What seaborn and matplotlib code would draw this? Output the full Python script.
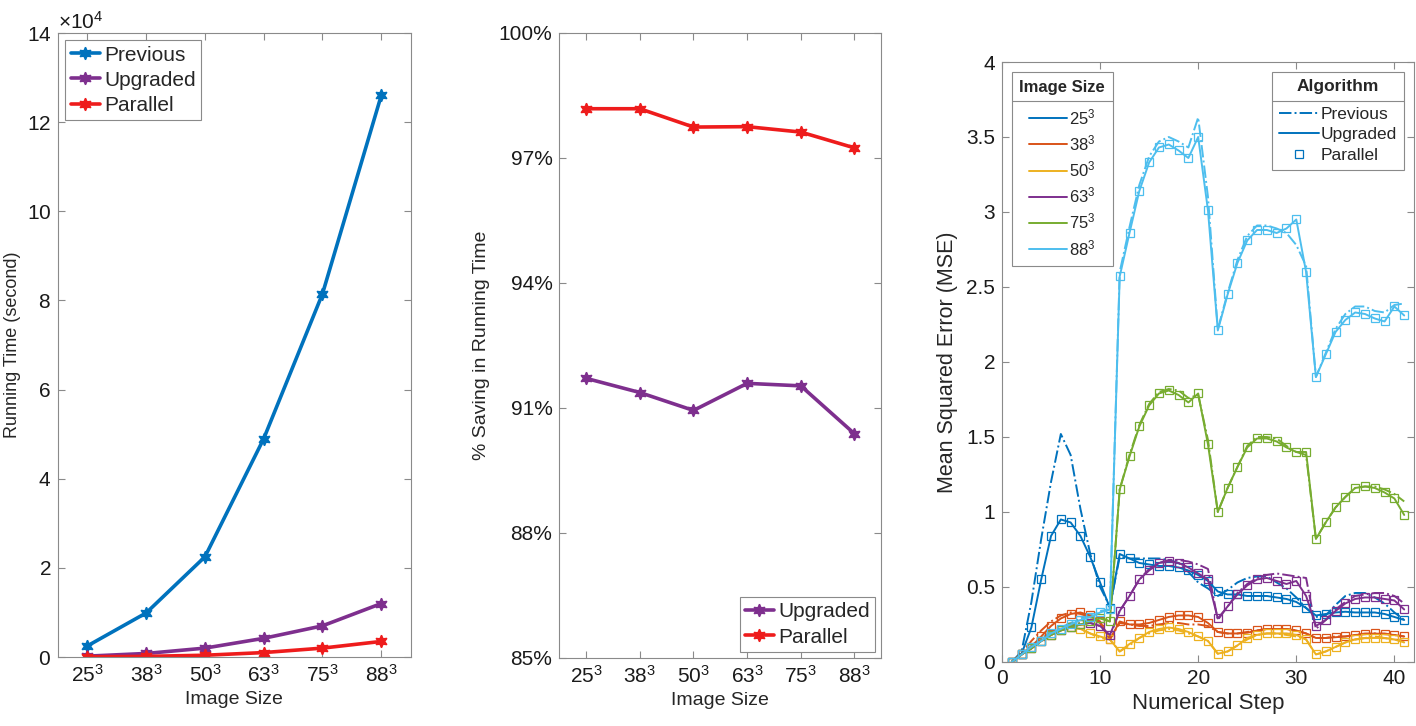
import numpy as np
import pandas as pd
import matplotlib
matplotlib.use("Agg")
import matplotlib.pyplot as plt
import seaborn as sns
from matplotlib.lines import Line2D
from matplotlib.ticker import ScalarFormatter, FuncFormatter

# ---------- data ----------
sizes = ["25", "38", "50", "63", "75", "88"]
size_labels = [s + "$^3$" for s in sizes]

# running time in seconds
time_previous = [2500, 9900, 22500, 49000, 81500, 126000]
time_upgraded = [200, 800, 2000, 4200, 7000, 12000]
time_parallel = [50, 150, 400, 1000, 2000, 3500]

# % saving in running time
save_upgraded = [91.71, 91.37, 90.94, 91.59, 91.53, 90.38]
save_parallel = [98.18, 98.18, 97.74, 97.75, 97.62, 97.24]

steps = list(range(1, 42))

# MSE per numerical step, Upgraded (solid) -- Parallel squares sit on the same values
mse_upg_25 = [0, 0.055, 0.23, 0.55, 0.84, 0.95, 0.93, 0.84, 0.70, 0.53, 0.36,
              0.72, 0.69, 0.66, 0.65, 0.64, 0.64, 0.63, 0.61, 0.58, 0.54,
              0.47, 0.45, 0.45, 0.44, 0.44, 0.44, 0.43, 0.42, 0.40, 0.36,
              0.31, 0.32, 0.33, 0.335, 0.33, 0.33, 0.33, 0.32, 0.30, 0.28]
mse_upg_38 = [0, 0.05, 0.10, 0.17, 0.24, 0.29, 0.32, 0.33, 0.31, 0.27, 0.15,
              0.27, 0.25, 0.25, 0.26, 0.28, 0.30, 0.31, 0.31, 0.30, 0.26,
              0.20, 0.19, 0.19, 0.195, 0.21, 0.22, 0.22, 0.22, 0.21, 0.19,
              0.16, 0.16, 0.165, 0.17, 0.18, 0.185, 0.19, 0.185, 0.18, 0.17]
mse_upg_50 = [0, 0.05, 0.09, 0.14, 0.18, 0.21, 0.23, 0.22, 0.19, 0.17, 0.15,
              0.07, 0.12, 0.16, 0.20, 0.22, 0.23, 0.22, 0.20, 0.17, 0.14,
              0.055, 0.07, 0.11, 0.16, 0.18, 0.19, 0.19, 0.19, 0.18, 0.15,
              0.05, 0.07, 0.10, 0.13, 0.15, 0.16, 0.16, 0.16, 0.15, 0.13]
mse_upg_63 = [0, 0.05, 0.09, 0.14, 0.18, 0.21, 0.23, 0.25, 0.26, 0.24, 0.18,
              0.34, 0.44, 0.55, 0.61, 0.66, 0.67, 0.66, 0.63, 0.59, 0.55,
              0.29, 0.37, 0.45, 0.51, 0.55, 0.56, 0.54, 0.52, 0.54, 0.44,
              0.24, 0.28, 0.34, 0.39, 0.42, 0.43, 0.43, 0.42, 0.41, 0.35]
mse_upg_75 = [0, 0.05, 0.09, 0.14, 0.18, 0.21, 0.23, 0.25, 0.27, 0.29, 0.27,
              1.15, 1.37, 1.57, 1.71, 1.79, 1.81, 1.78, 1.73, 1.79, 1.45,
              1.00, 1.16, 1.30, 1.43, 1.49, 1.49, 1.47, 1.43, 1.40, 1.40,
              0.82, 0.93, 1.03, 1.10, 1.16, 1.17, 1.16, 1.13, 1.09, 0.98]
mse_upg_88 = [0, 0.05, 0.10, 0.14, 0.19, 0.22, 0.25, 0.28, 0.30, 0.33, 0.35,
              2.57, 2.86, 3.14, 3.33, 3.43, 3.45, 3.41, 3.36, 3.50, 3.01,
              2.21, 2.45, 2.66, 2.81, 2.88, 2.88, 2.86, 2.89, 2.95, 2.60,
              1.90, 2.05, 2.20, 2.28, 2.33, 2.32, 2.29, 2.27, 2.37, 2.31]

# MSE per numerical step, Previous (dash-dot)
mse_prev_25 = [0, 0.07, 0.40, 0.82, 1.20, 1.52, 1.38, 1.02, 0.72, 0.50, 0.37,
               0.70, 0.69, 0.69, 0.69, 0.69, 0.68, 0.66, 0.60, 0.53, 0.49,
               0.44, 0.48, 0.53, 0.56, 0.57, 0.57, 0.53, 0.49, 0.43, 0.36,
               0.30, 0.31, 0.38, 0.44, 0.46, 0.46, 0.43, 0.39, 0.33, 0.28]
mse_prev_38 = [0, 0.06, 0.14, 0.21, 0.27, 0.31, 0.33, 0.32, 0.30, 0.26, 0.15,
               0.26, 0.25, 0.24, 0.24, 0.25, 0.26, 0.26, 0.25, 0.25, 0.24,
               0.20, 0.19, 0.19, 0.20, 0.21, 0.22, 0.22, 0.22, 0.21, 0.19,
               0.16, 0.16, 0.17, 0.17, 0.18, 0.19, 0.19, 0.19, 0.18, 0.17]
mse_prev_50 = [0, 0.05, 0.10, 0.15, 0.19, 0.22, 0.23, 0.22, 0.19, 0.16, 0.15,
               0.07, 0.11, 0.16, 0.19, 0.21, 0.22, 0.21, 0.19, 0.17, 0.14,
               0.055, 0.07, 0.11, 0.15, 0.18, 0.19, 0.19, 0.18, 0.17, 0.15,
               0.05, 0.07, 0.10, 0.13, 0.15, 0.16, 0.17, 0.16, 0.15, 0.14]
mse_prev_63 = [0, 0.05, 0.10, 0.15, 0.19, 0.22, 0.24, 0.26, 0.26, 0.24, 0.17,
               0.34, 0.44, 0.55, 0.62, 0.66, 0.68, 0.68, 0.67, 0.65, 0.62,
               0.28, 0.37, 0.46, 0.52, 0.56, 0.58, 0.59, 0.58, 0.57, 0.56,
               0.22, 0.28, 0.35, 0.40, 0.44, 0.45, 0.46, 0.46, 0.44, 0.39]
mse_prev_75 = [0, 0.05, 0.10, 0.15, 0.19, 0.22, 0.24, 0.26, 0.28, 0.30, 0.27,
               1.15, 1.38, 1.58, 1.72, 1.80, 1.82, 1.81, 1.76, 1.78, 1.48,
               1.00, 1.16, 1.30, 1.44, 1.50, 1.50, 1.49, 1.44, 1.40, 1.38,
               0.82, 0.93, 1.03, 1.10, 1.16, 1.17, 1.17, 1.15, 1.12, 1.07]
mse_prev_88 = [0, 0.05, 0.11, 0.16, 0.20, 0.23, 0.26, 0.29, 0.31, 0.34, 0.35,
               2.60, 2.90, 3.18, 3.37, 3.47, 3.50, 3.47, 3.43, 3.63, 3.10,
               2.22, 2.46, 2.68, 2.84, 2.91, 2.91, 2.89, 2.86, 2.78, 2.64,
               1.90, 2.06, 2.22, 2.32, 2.37, 2.37, 2.34, 2.33, 2.38, 2.39]

mse_upg = [mse_upg_25, mse_upg_38, mse_upg_50, mse_upg_63, mse_upg_75, mse_upg_88]
mse_prev = [mse_prev_25, mse_prev_38, mse_prev_50, mse_prev_63, mse_prev_75, mse_prev_88]

# ---------- style ----------
sns.set_style("ticks")
plt.rcParams["font.family"] = ["Liberation Sans", "DejaVu Sans"]
plt.rcParams["mathtext.default"] = "regular"

c_prev, c_upg, c_par = "#0072BD", "#7E2F8E", "#EE1C1C"
size_colors = ["#0072BD", "#D95319", "#EDB120", "#7E2F8E", "#77AC30", "#4DBEEE"]
spine_c = "#8a8a8a"
hexa = (6, 1, 0)


def style_axes(ax):
    for s in ax.spines.values():
        s.set_visible(True)
        s.set_color(spine_c)
        s.set_linewidth(0.8)
    ax.tick_params(direction="in", top=True, right=True, length=5, width=0.8,
                   color=spine_c, labelsize=15, labelcolor="#1a1a1a", pad=5)


def frame_legend(leg):
    leg.get_frame().set_edgecolor(spine_c)
    leg.get_frame().set_linewidth(0.8)
    leg.get_frame().set_alpha(1)


fig = plt.figure(figsize=(14.16, 7.26), dpi=100)
ax1 = fig.add_axes([0.041, 0.095, 0.249, 0.8595])
ax2 = fig.add_axes([0.395, 0.0937, 0.2274, 0.861])
ax3 = fig.add_axes([0.7076, 0.0882, 0.291, 0.8264])

pos = list(range(len(sizes)))

# ---------- left: running time ----------
for name, vals, c in [("Previous", time_previous, c_prev),
                      ("Upgraded", time_upgraded, c_upg),
                      ("Parallel", time_parallel, c_par)]:
    sns.lineplot(x=pos, y=vals, color=c, lw=2.6, marker=hexa, markersize=9,
                 markeredgecolor=c, markeredgewidth=1, label=name, ax=ax1)
ax1.set_xlim(-0.5, 5.5)
ax1.set_ylim(0, 140000)
ax1.set_yticks(np.arange(0, 140001, 20000))
fmt = ScalarFormatter(useMathText=True)
fmt.set_powerlimits((4, 4))
ax1.yaxis.set_major_formatter(fmt)
ax1.yaxis.get_offset_text().set_fontsize(15)
ax1.set_xticks(pos)
ax1.set_xticklabels(size_labels)
ax1.set_xlabel("Image Size", fontsize=14)
ax1.set_ylabel("Running Time (second)", fontsize=13, labelpad=4)
style_axes(ax1)
leg1 = ax1.legend(loc="upper left", fontsize=15, frameon=True, fancybox=False,
                  handlelength=1.4, handletextpad=0.2, borderpad=0.25,
                  labelspacing=0.3, borderaxespad=0.35)
frame_legend(leg1)

# ---------- middle: % saving ----------
for name, vals, c in [("Upgraded", save_upgraded, c_upg),
                      ("Parallel", save_parallel, c_par)]:
    sns.lineplot(x=pos, y=vals, color=c, lw=2.6, marker=hexa, markersize=9,
                 markeredgecolor=c, markeredgewidth=1, label=name, ax=ax2)
ax2.set_xlim(-0.5, 5.5)
ax2.set_ylim(85, 100)
ax2.set_yticks([85, 88, 91, 94, 97, 100])
ax2.yaxis.set_major_formatter(FuncFormatter(lambda v, p: f"{v:.0f}%"))
ax2.set_xticks(pos)
ax2.set_xticklabels(size_labels)
ax2.set_xlabel("Image Size", fontsize=14)
ax2.set_ylabel("% Saving in Running Time", fontsize=14, labelpad=6)
style_axes(ax2)
leg2 = ax2.legend(loc="lower right", fontsize=15, frameon=True, fancybox=False,
                  handlelength=1.4, handletextpad=0.2, borderpad=0.25,
                  labelspacing=0.3, borderaxespad=0.3)
frame_legend(leg2)

# ---------- right: MSE ----------
for prev, upg, c in zip(mse_prev, mse_upg, size_colors):
    sns.lineplot(x=steps, y=prev, color=c, lw=1.4, linestyle="-.", ax=ax3)
for prev, upg, c in zip(mse_prev, mse_upg, size_colors):
    sns.lineplot(x=steps, y=upg, color=c, lw=1.4, ax=ax3)
    sns.lineplot(x=steps, y=upg, color=c, linestyle="none", marker="s",
                 markersize=6, markerfacecolor="none", markeredgecolor=c,
                 markeredgewidth=0.9, ax=ax3)
ax3.set_xlim(0, 42)
ax3.set_ylim(0, 4)
ax3.set_xticks([0, 10, 20, 30, 40])
ax3.set_yticks([0, 0.5, 1, 1.5, 2, 2.5, 3, 3.5, 4])
ax3.yaxis.set_major_formatter(FuncFormatter(lambda v, p: f"{v:g}"))
ax3.set_xlabel("Numerical Step", fontsize=16)
ax3.set_ylabel("Mean Squared Error (MSE)", fontsize=15.5, labelpad=6)
style_axes(ax3)

size_handles = [Line2D([], [], color=c, lw=1.4) for c in size_colors]
leg_size = ax3.legend(size_handles, size_labels, loc="upper left", title="Image Size",
                      fontsize=12, title_fontproperties={"weight": "bold", "size": 12},
                      frameon=True, fancybox=False, handlelength=2.3,
                      handletextpad=0.1, borderpad=0.45, labelspacing=0.38,
                      borderaxespad=0.6)
frame_legend(leg_size)
leg_size._legend_box.sep = 9
ax3.add_artist(leg_size)

alg_handles = [Line2D([], [], color=c_prev, lw=1.4, linestyle="-."),
               Line2D([], [], color=c_prev, lw=1.4),
               Line2D([], [], color=c_prev, linestyle="none", marker="s",
                      markersize=6, markerfacecolor="none", markeredgewidth=0.9)]
leg_alg = ax3.legend(alg_handles, ["Previous", "Upgraded", "Parallel"], loc="upper right",
                     title="Algorithm", fontsize=12.5,
                     title_fontproperties={"weight": "bold", "size": 12.5},
                     frameon=True, fancybox=False, handlelength=2.3,
                     handletextpad=0.1, borderpad=0.4, labelspacing=0.3,
                     borderaxespad=0.6)
frame_legend(leg_alg)
leg_alg._legend_box.sep = 9

# separator line under legend titles (MATLAB style)
fig.canvas.draw()
renderer = fig.canvas.get_renderer()
W, H = fig.bbox.width, fig.bbox.height
for leg in [leg_size, leg_alg]:
    tb = leg.get_title().get_window_extent(renderer)
    hb = leg._legend_handle_box.get_window_extent(renderer)
    fb = leg.get_frame().get_window_extent(renderer)
    y = (tb.y0 + hb.y1) / 2
    fig.add_artist(Line2D([fb.x0 / W, fb.x1 / W], [y / H, y / H],
                          transform=fig.transFigure, color=spine_c, lw=0.8))

fig.savefig("out.png", dpi=100)
